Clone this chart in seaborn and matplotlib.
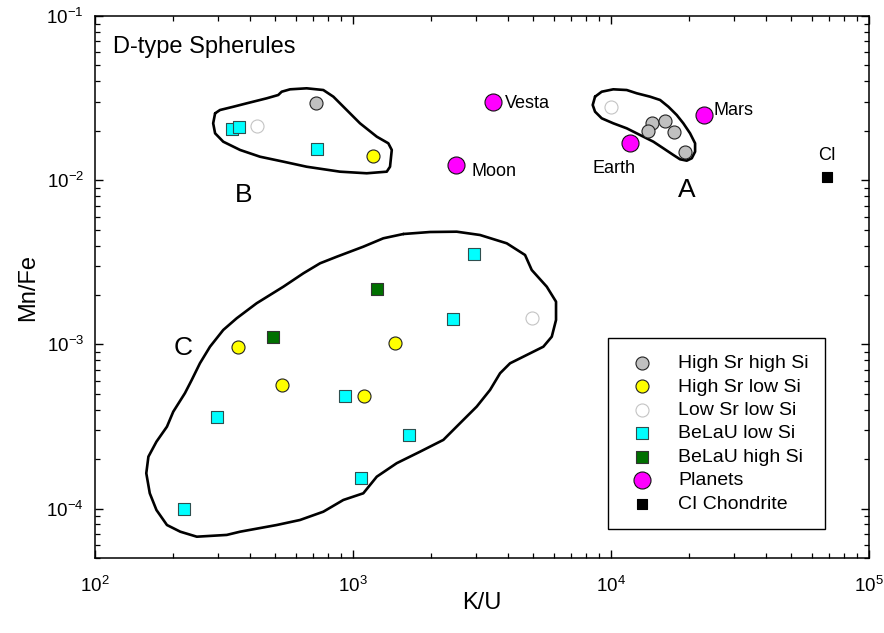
import numpy as np
import pandas as pd
import matplotlib
matplotlib.use("Agg")
import matplotlib.pyplot as plt
import seaborn as sns
from matplotlib.ticker import LogLocator, FuncFormatter, NullFormatter

# ---------------------------------------------------------
# Data (K/U vs Mn/Fe)
# ---------------------------------------------------------
high_sr_high_si_ku = [717, 14380, 13870, 16190, 17550, 19360]
high_sr_high_si_mnfe = [0.0297, 0.0222, 0.0200, 0.0230, 0.0197, 0.0149]

high_sr_low_si_ku = [1200, 357, 1455, 529, 1106]
high_sr_low_si_mnfe = [0.0140, 0.00096, 0.00102, 0.000564, 0.000487]

low_sr_low_si_ku = [426, 10000, 4930]
low_sr_low_si_mnfe = [0.0214, 0.0280, 0.00145]

belau_low_si_ku = [339, 361, 728, 2935, 2434, 931, 297, 1644, 1074, 221]
belau_low_si_mnfe = [0.0205, 0.0210, 0.0155, 0.00355, 0.00142, 0.000487,
                     0.00036, 0.000281, 0.000153, 0.000099]

belau_high_si_ku = [1243, 491]
belau_high_si_mnfe = [0.00218, 0.00111]

planet_names = ["Vesta", "Mars", "Earth", "Moon"]
planet_ku = [3500, 23000, 11800, 2500]
planet_mnfe = [0.0300, 0.0250, 0.0168, 0.0124]

ci_ku = [69000]
ci_mnfe = [0.0104]

# hand-drawn group outlines
contour_a_ku = [8670, 9200, 10200, 11500, 12580, 14170, 15490, 16680, 17970, 19060,
                20240, 21170, 21170, 20550, 19650, 18510, 17440, 15950, 14590, 12950,
                11500, 10200, 9200, 8670, 8490, 8670]
contour_a_mnfe = [0.03226, 0.03459, 0.03577, 0.03542, 0.03383, 0.03226, 0.03080, 0.02803,
                  0.02495, 0.02221, 0.01930, 0.01678, 0.01492, 0.01360, 0.01315, 0.01341,
                  0.01424, 0.01564, 0.01716, 0.01885, 0.02070, 0.02221, 0.02382, 0.02614,
                  0.02871, 0.03226]

contour_b_ku = [292, 305, 344, 387, 463, 513, 529, 570, 661, 767, 839, 945, 1064, 1236,
                1370, 1413, 1391, 1351, 1130, 890, 661, 537, 436, 365, 314, 292, 287, 292]
contour_b_mnfe = [0.02555, 0.02676, 0.02803, 0.02939, 0.03154, 0.03303, 0.03459, 0.03577,
                  0.03628, 0.03542, 0.03226, 0.02676, 0.02221, 0.01841, 0.01678, 0.01528,
                  0.01208, 0.01127, 0.01102, 0.01127, 0.01208, 0.01297, 0.01390, 0.01528,
                  0.01716, 0.01930, 0.02221, 0.02555]

contour_c_ku = [1567, 1988, 2523, 3106, 3942, 4642, 4927, 5634, 6120, 6120, 5892, 5465,
                4713, 4060, 3714, 3397, 3016, 2598, 2239, 1818, 1477, 1236, 1096, 917,
                767, 623, 506, 365, 324, 248, 214, 190, 173, 163, 158, 161, 173, 190,
                201, 223, 237, 255, 279, 314, 354, 423, 537, 642, 745, 865, 1096, 1310,
                1567]
contour_c_mnfe = [0.004702, 0.004836, 0.004857, 0.004637, 0.004127, 0.003503, 0.002838,
                  0.002246, 0.001820, 0.001408, 0.001114, 0.000968, 0.000862, 0.000767,
                  0.000667, 0.000528, 0.000418, 0.000331, 0.000262, 0.000222, 0.000189,
                  0.0001564, 0.0001239, 0.0001128, 0.0000957, 0.0000852, 0.0000794,
                  0.0000723, 0.0000691, 0.0000674, 0.0000723, 0.0000794, 0.0000980,
                  0.0001239, 0.0001641, 0.000207, 0.0002555, 0.0003154, 0.0003891,
                  0.000504, 0.000607, 0.000767, 0.000968, 0.001224, 0.001442, 0.001780,
                  0.002246, 0.002710, 0.003118, 0.003420, 0.003936, 0.004427, 0.004702]

# ---------------------------------------------------------
# Styling
# ---------------------------------------------------------
sns.set_theme(style="ticks")
plt.rcParams["font.family"] = ["Liberation Sans", "DejaVu Sans"]
plt.rcParams["axes.linewidth"] = 1.1
for key in ("text.color", "axes.labelcolor", "xtick.color", "ytick.color", "axes.edgecolor"):
    plt.rcParams[key] = "black"

fig = plt.figure(figsize=(8.84, 6.33), dpi=100)
ax = fig.add_axes([0.1075, 0.1185, 0.8756, 0.8562])

# outlines first so markers sit on top
for cx, cy in [(contour_a_ku, contour_a_mnfe), (contour_b_ku, contour_b_mnfe),
               (contour_c_ku, contour_c_mnfe)]:
    ax.plot(cx, cy, color="black", lw=1.9, solid_joinstyle="round", zorder=2)

groups = [
    ("High Sr high Si", high_sr_high_si_ku, high_sr_high_si_mnfe, "o", "#c0c0c0", "#222222", 88),
    ("High Sr low Si", high_sr_low_si_ku, high_sr_low_si_mnfe, "o", "#ffff00", "#222222", 88),
    ("Low Sr low Si", low_sr_low_si_ku, low_sr_low_si_mnfe, "o", "white", "#c4c4c4", 88),
    ("BeLaU low Si", belau_low_si_ku, belau_low_si_mnfe, "s", "#00ffff", "#2f4f4f", 64),
    ("BeLaU high Si", belau_high_si_ku, belau_high_si_mnfe, "s", "#007000", "#333333", 64),
    ("Planets", planet_ku, planet_mnfe, "o", "#ff00ff", "#111111", 150),
    ("CI Chondrite", ci_ku, ci_mnfe, "s", "black", "black", 52),
]

for label, xs, ys, mk, fc, ec, size in groups:
    sns.scatterplot(x=xs, y=ys, marker=mk, color=fc, edgecolor=ec, linewidth=0.8,
                    s=size, label=label, ax=ax, zorder=3)

ax.set_xscale("log")
ax.set_yscale("log")
ax.set_xlim(1e2, 1e5)
ax.set_ylim(5e-5, 1e-1)

# planet / CI labels
planet_offsets = {"Vesta": (8.5, -1, "left"), "Mars": (6.5, 3, "left"),
                  "Earth": (-11, -18, "center"), "Moon": (11.5, -5, "left")}
for name, x, y in zip(planet_names, planet_ku, planet_mnfe):
    dx, dy, ha = planet_offsets[name]
    ax.annotate(name, (x, y), xytext=(dx, dy), textcoords="offset points",
                ha=ha, va="center", fontsize=13)
ax.annotate("CI", (ci_ku[0], ci_mnfe[0]), xytext=(0, 15.5), textcoords="offset points",
            ha="center", va="center", fontsize=13)

# group letters
ax.text(19650, 0.0087, "A", ha="center", va="center", fontsize=19)
ax.text(376, 0.0081, "B", ha="center", va="center", fontsize=19)
ax.text(219, 0.00095, "C", ha="center", va="center", fontsize=19)

ax.text(0.023, 0.943, "D-type Spherules", transform=ax.transAxes,
        ha="left", va="center", fontsize=17)

ax.set_xlabel("K/U", fontsize=17, labelpad=-3)
ax.set_ylabel("Mn/Fe", fontsize=17, labelpad=5)

decade_fmt = FuncFormatter(lambda v, p: r"$\mathregular{10^{%d}}$" % round(np.log10(v)))
for axis in (ax.xaxis, ax.yaxis):
    axis.set_major_locator(LogLocator(base=10, numticks=10))
    axis.set_minor_locator(LogLocator(base=10, subs=np.arange(2, 10), numticks=10))
    axis.set_major_formatter(decade_fmt)
    axis.set_minor_formatter(NullFormatter())

ax.tick_params(which="both", direction="in", top=True, right=True, color="black")
ax.tick_params(which="major", length=6, width=1.0, labelsize=13.5)
ax.tick_params(axis="x", which="major", pad=13)
ax.tick_params(axis="y", which="major", pad=8)
ax.tick_params(which="minor", length=3.5, width=0.9)

leg = ax.legend(loc="upper left", bbox_to_anchor=(0.6628, 0.406), frameon=True,
                fancybox=False, edgecolor="black", framealpha=1, fontsize=14,
                borderaxespad=0, labelspacing=0.3, handletextpad=0.95,
                borderpad=0.85, handlelength=1.8)
leg.get_frame().set_linewidth(1.0)

fig.savefig("out.png", dpi=100)
